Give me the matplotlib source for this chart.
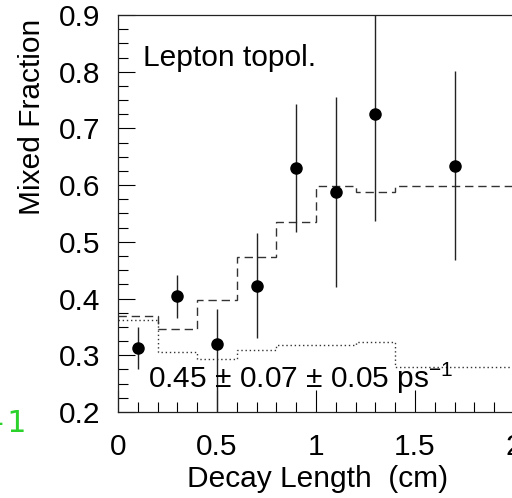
import matplotlib
matplotlib.use("Agg")
import matplotlib.pyplot as plt
import numpy as np
from matplotlib.ticker import MultipleLocator

plt.rcParams['font.family'] = ['Liberation Sans', 'DejaVu Sans']
plt.rcParams['mathtext.fontset'] = 'custom'
plt.rcParams['mathtext.rm'] = 'Liberation Sans'
plt.rcParams['mathtext.it'] = 'Liberation Sans'

# data points
x_pts = [0.1, 0.3, 0.5, 0.7, 0.9, 1.1, 1.3, 1.7]
y_pts = [0.312, 0.404, 0.320, 0.422, 0.631, 0.588, 0.725, 0.634]
err_lo = [0.036, 0.038, 0.125, 0.092, 0.113, 0.168, 0.188, 0.166]
err_hi = [0.037, 0.037, 0.061, 0.093, 0.112, 0.168, 0.188, 0.167]

# dashed histogram (expected mixed fraction)
dash_edges = [0.0, 0.2, 0.4, 0.6, 0.8, 1.0, 1.2, 1.4, 2.0]
dash_vals = [0.369, 0.347, 0.397, 0.474, 0.535, 0.599, 0.588, 0.599]

# dotted histogram (background)
dot_edges = [0.0, 0.2, 0.4, 0.6, 0.8, 1.2, 1.4, 2.0]
dot_vals = [0.363, 0.306, 0.294, 0.310, 0.319, 0.323, 0.280]

W, H = 512, 498
fig = plt.figure(figsize=(W / 100, H / 100), dpi=100)
ax = fig.add_axes([118 / W, 1 - 412 / H, 396 / W, 397 / H])

ax.stairs(dash_vals, dash_edges, baseline=None, color='#333333',
          linewidth=1.0, linestyle=(0, (6, 3.5)))
ax.stairs(dot_vals, dot_edges, baseline=None, color='#333333',
          linewidth=1.0, linestyle=(0, (1, 2)))
ax.errorbar(x_pts, y_pts, yerr=[err_lo, err_hi], fmt='o', color='black',
            markersize=8, elinewidth=1.0, capsize=0, ecolor='#222222')

ax.set_xlim(0, 2)
ax.set_ylim(0.2, 0.9)
ax.xaxis.set_minor_locator(MultipleLocator(0.1))
ax.yaxis.set_minor_locator(MultipleLocator(0.025))
ax.set_xticks([0, 0.5, 1, 1.5, 2])
ax.set_xticklabels(['0', '0.5', '1', '1.5', '2'])
ax.set_yticks([0.2, 0.3, 0.4, 0.5, 0.6, 0.7, 0.8, 0.9])
ax.set_yticklabels(['0.2', '0.3', '0.4', '0.5', '0.6', '0.7', '0.8', '0.9'])

ax.tick_params(axis='both', which='both', direction='in', width=0.8,
               colors='black', labelsize=21.5, top=False, right=False)
ax.tick_params(axis='y', which='major', length=12.2, pad=13)
ax.tick_params(axis='x', which='major', length=15.8, pad=15)
ax.tick_params(axis='both', which='minor', length=7.2)
for s in ax.spines.values():
    s.set_linewidth(0.9)
    s.set_color('#222222')

ax.set_ylabel('Mixed Fraction', fontsize=21.5)
ax.yaxis.label.set_rotation_mode('anchor')
ax.yaxis.label.set_va('baseline')
ax.yaxis.label.set_ha('center')
ax.yaxis.set_label_coords((40 - 118) / 396, (412 - 116.5) / 397)

ax.set_xlabel('Decay Length  (cm)', fontsize=21.5)
ax.xaxis.label.set_va('baseline')
ax.xaxis.set_label_coords((318 - 118) / 396, (412 - 487) / 397)

ax.text((143 - 118) / 396, (412 - 66) / 397, 'Lepton topol.', fontsize=21.5,
        transform=ax.transAxes, ha='left', va='baseline')
ax.text((148 - 118) / 396, (412 - 388) / 397,
        r'0.45 $\pm$ 0.07 $\pm$ 0.05 ps$^{\mathregular{-1}}$', fontsize=21.5,
        transform=ax.transAxes, ha='left', va='baseline')

fig.text(26 / W, 1 - 431.5 / H, '-1', color='#2cd22c', fontsize=22.5,
         family='DejaVu Sans Mono', ha='right', va='baseline')

fig.savefig('out.png', dpi=100)
